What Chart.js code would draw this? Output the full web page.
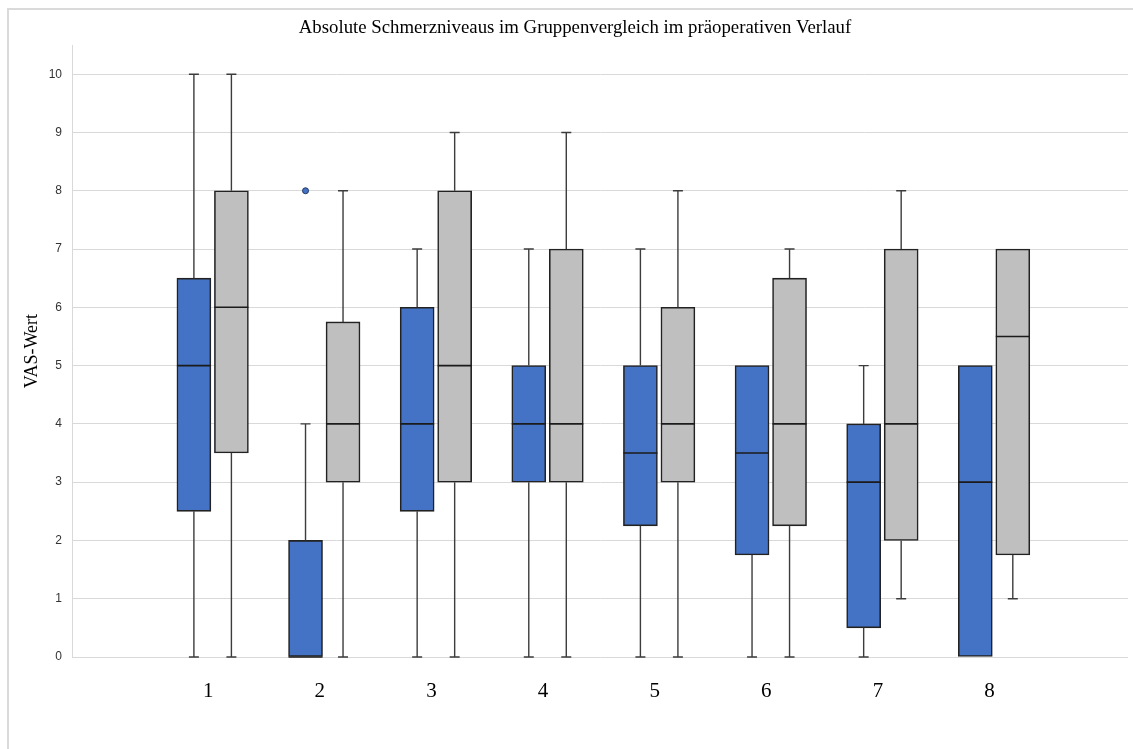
<!DOCTYPE html>
<html lang="de">
<head>
<meta charset="utf-8">
<title>Absolute Schmerzniveaus im Gruppenvergleich</title>
<script src="https://cdn.jsdelivr.net/npm/chart.js@4/dist/chart.umd.min.js"></script>
<style>
  html, body { margin: 0; padding: 0; background: #ffffff; overflow: hidden; }
  #wrap { position: relative; width: 1133px; height: 749px; }
  #frame {
    position: absolute; left: 7px; top: 8px; width: 1140px; height: 760px;
    border-left: 2px solid #dadada; border-top: 2px solid #dadada;
  }
  #chart { position: absolute; left: 0; top: 0; }
</style>
</head>
<body>
<div id="wrap">
  <div id="frame"></div>
  <canvas id="chart" width="1133" height="749"></canvas>
</div>
<script>
// Zeitpunkte (Kategorien) und Tick-Beschriftungen der y-Achse
const categories = ['1', '2', '3', '4', '5', '6', '7', '8'];
const yTicks = [0, 1, 2, 3, 4, 5, 6, 7, 8, 9, 10];

// Gruppe 1 (blau): Minimum, Q1, Median, Q3, Maximum, Ausreißer
const blueMin    = [0,   0, 0,   0, 0,    0,    0,   0];
const blueQ1     = [2.5, 0, 2.5, 3, 2.25, 1.75, 0.5, 0];
const blueMedian = [5,   0, 4,   4, 3.5,  3.5,  3,   3];
const blueQ3     = [6.5, 2, 6,   5, 5,    5,    4,   5];
const blueMax    = [10,  4, 7,   7, 7,    5,    5,   5];
const blueOutliers = [[], [8], [], [], [], [], [], []];

// Gruppe 2 (grau)
const grayMin    = [0,   0,    0, 0, 0, 0,    1, 1];
const grayQ1     = [3.5, 3,    3, 3, 3, 2.25, 2, 1.75];
const grayMedian = [6,   4,    5, 4, 4, 4,    4, 5.5];
const grayQ3     = [8,   5.75, 8, 7, 6, 6.5,  7, 7];
const grayMax    = [10,  8,    9, 9, 8, 7,    8, 7];

// Lage der beiden Boxen relativ zur Kategorie (in Achseneinheiten)
const GROUP_SHIFT = 0.04;
const BOX_OFFSET = 0.168;
const blueX = i => i + 1 + GROUP_SHIFT - BOX_OFFSET;
const grayX = i => i + 1 + GROUP_SHIFT + BOX_OFFSET;

const blueBoxes = categories.map((c, i) => ({ x: blueX(i), y: [blueQ1[i], blueQ3[i]] }));
const grayBoxes = categories.map((c, i) => ({ x: grayX(i), y: [grayQ1[i], grayQ3[i]] }));
const outlierPoints = [];
blueOutliers.forEach((list, i) => list.forEach(v => outlierPoints.push({ x: blueX(i), y: v })));

// Whisker, Endkappen und Median über die Skalen der Bibliothek zeichnen
function drawWhiskers(chart, dsIndex, mins, meds, maxs, q1s, q3s) {
  const ctx = chart.ctx;
  const yScale = chart.scales.y;
  const meta = chart.getDatasetMeta(dsIndex);
  const capHalf = 5;
  meta.data.forEach((bar, i) => {
    const cx = bar.x;
    const half = bar.width / 2;
    const yMin = yScale.getPixelForValue(mins[i]);
    const yMax = yScale.getPixelForValue(maxs[i]);
    const yQ1 = yScale.getPixelForValue(q1s[i]);
    const yQ3 = yScale.getPixelForValue(q3s[i]);
    const yMed = yScale.getPixelForValue(meds[i]);
    ctx.save();
    ctx.strokeStyle = '#3c3c3c';
    ctx.lineWidth = 1.4;
    ctx.beginPath();
    if (maxs[i] > q3s[i]) {
      ctx.moveTo(cx, yQ3); ctx.lineTo(cx, yMax);
      ctx.moveTo(cx - capHalf, yMax); ctx.lineTo(cx + capHalf, yMax);
    }
    if (mins[i] < q1s[i]) {
      ctx.moveTo(cx, yQ1); ctx.lineTo(cx, yMin);
      ctx.moveTo(cx - capHalf, yMin); ctx.lineTo(cx + capHalf, yMin);
    }
    ctx.stroke();
    ctx.strokeStyle = '#1b1b1b';
    ctx.lineWidth = 1.6;
    ctx.beginPath();
    ctx.moveTo(cx - half, yMed); ctx.lineTo(cx + half, yMed);
    ctx.stroke();
    ctx.restore();
  });
}

const boxWhiskerPlugin = {
  id: 'boxWhiskers',
  afterDatasetsDraw(chart) {
    drawWhiskers(chart, 0, blueMin, blueMedian, blueMax, blueQ1, blueQ3);
    drawWhiskers(chart, 1, grayMin, grayMedian, grayMax, grayQ1, grayQ3);
  }
};

new Chart(document.getElementById('chart'), {
  type: 'bar',
  data: {
    datasets: [
      {
        label: 'Gruppe 1',
        data: blueBoxes,
        backgroundColor: '#4472c4',
        borderColor: '#222222',
        borderWidth: 1.6,
        borderSkipped: false,
        barThickness: 34,
        grouped: false,
        order: 2
      },
      {
        label: 'Gruppe 2',
        data: grayBoxes,
        backgroundColor: '#bfbfbf',
        borderColor: '#222222',
        borderWidth: 1.6,
        borderSkipped: false,
        barThickness: 34,
        grouped: false,
        order: 2
      },
      {
        type: 'scatter',
        label: 'Ausreißer',
        data: outlierPoints,
        pointRadius: 3,
        pointBackgroundColor: '#4472c4',
        pointBorderColor: '#1f3864',
        pointBorderWidth: 1,
        order: 0
      }
    ]
  },
  options: {
    responsive: false,
    animation: false,
    events: [],
    layout: { padding: { left: 17, right: 0, top: 0, bottom: 0 } },
    plugins: {
      legend: { display: false },
      tooltip: { enabled: false },
      title: {
        display: true,
        text: 'Absolute Schmerzniveaus im Gruppenvergleich im präoperativen Verlauf',
        color: '#000000',
        font: { family: 'Liberation Serif', size: 18.8, weight: 'normal' },
        padding: { top: 16.5, bottom: 6 }
      }
    },
    scales: {
      x: {
        type: 'linear',
        offset: false,
        min: -0.22,
        max: 9.24,
        grid: { display: false, drawTicks: false, offset: false },
        border: { display: false },
        afterBuildTicks: scale => { scale.ticks = categories.map((c, i) => ({ value: i + 1 })); },
        afterFit: scale => { scale.height = 92; },
        ticks: {
          autoSkip: false,
          maxRotation: 0,
          padding: 22,
          color: '#000000',
          font: { family: 'Liberation Serif', size: 21 },
          callback: value => categories[value - 1]
        }
      },
      y: {
        type: 'linear',
        min: 0,
        max: 10.5,
        afterBuildTicks: scale => { scale.ticks = yTicks.map(v => ({ value: v })); },
        afterFit: scale => { scale.width = 55; },
        grid: { color: '#d9d9d9', lineWidth: 1, drawTicks: false },
        border: { display: true, color: '#d9d9d9', width: 1 },
        ticks: {
          padding: 10,
          color: '#333333',
          font: { family: 'Liberation Sans', size: 12 }
        },
        title: {
          display: true,
          text: 'VAS-Wert',
          color: '#000000',
          font: { family: 'Liberation Serif', size: 18 },
          padding: { top: 4, bottom: 0 }
        }
      }
    }
  },
  plugins: [boxWhiskerPlugin]
});
</script>
</body>
</html>
